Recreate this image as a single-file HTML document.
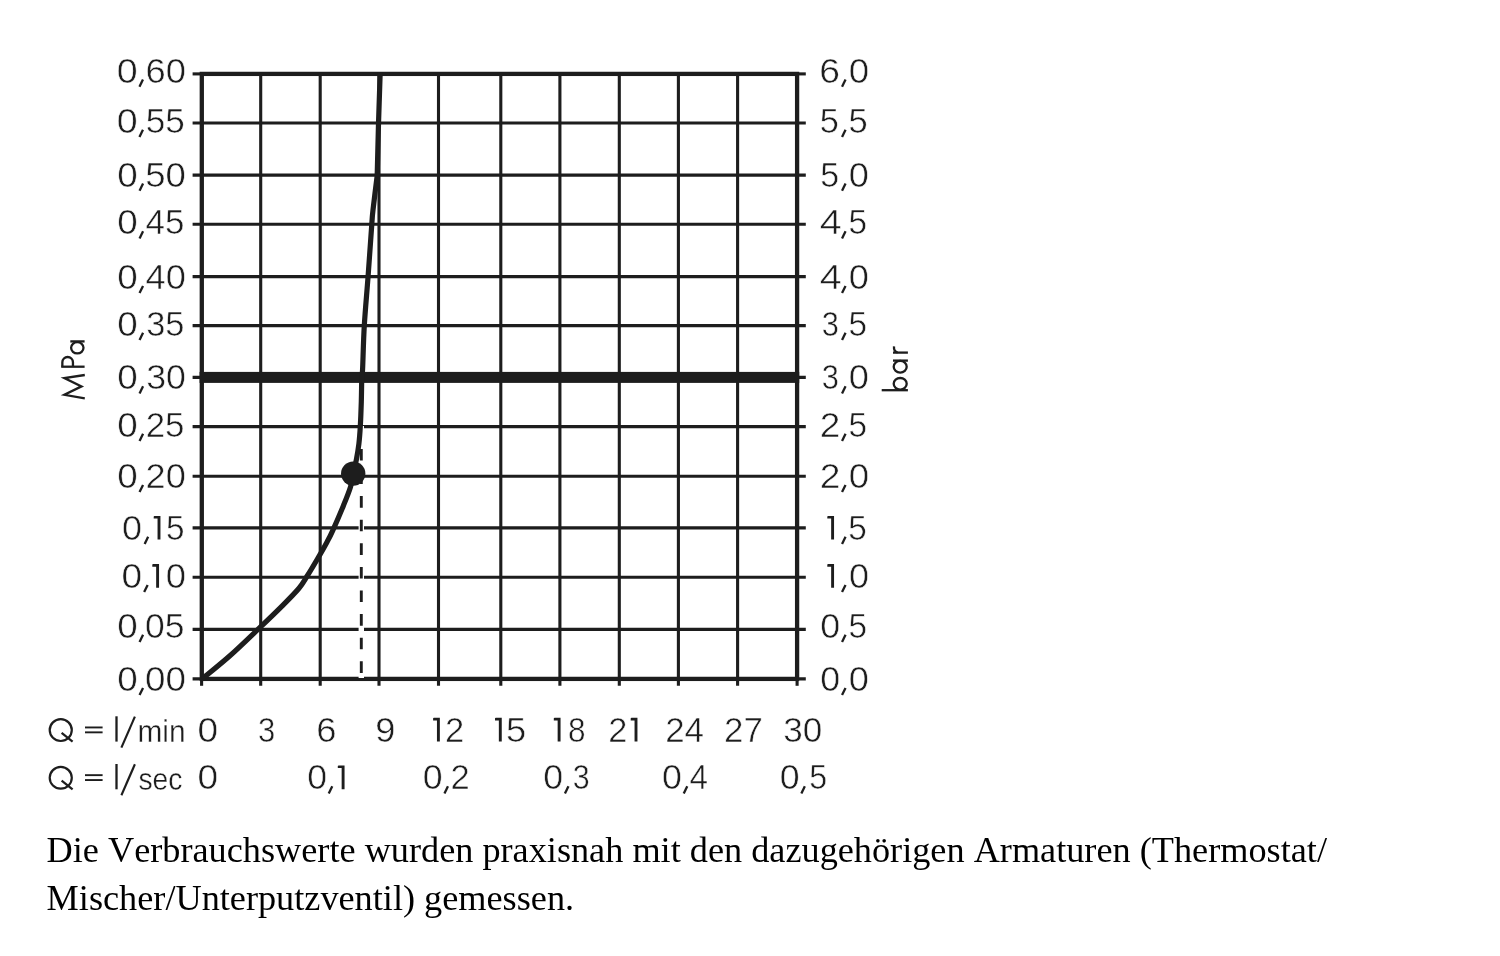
<!DOCTYPE html>
<html><head><meta charset="utf-8"><title>Durchflussdiagramm</title>
<style>html,body{margin:0;padding:0;background:#fff}svg{display:block;filter:grayscale(1);will-change:transform}text{font-family:"Liberation Sans",sans-serif;fill:#1d1d1b}.t{stroke:#fff;stroke-width:0.5px}.t2{stroke:#fff;stroke-width:0.35px}.s{font-family:"Liberation Serif",serif;fill:#000;font-kerning:none}</style></head><body>
<svg width="1500" height="956" viewBox="0 0 1500 956">
<rect width="1500" height="956" fill="#fff"/>
<g stroke="#1d1d1b" stroke-width="3.1" fill="none">
<line x1="192.6" y1="123.0" x2="805.8" y2="123.0"/>
<line x1="192.6" y1="175.1" x2="805.8" y2="175.1"/>
<line x1="192.6" y1="224.3" x2="805.8" y2="224.3"/>
<line x1="192.6" y1="276.6" x2="805.8" y2="276.6"/>
<line x1="192.6" y1="325.6" x2="805.8" y2="325.6"/>
<line x1="192.6" y1="426.6" x2="805.8" y2="426.6"/>
<line x1="192.6" y1="476.3" x2="805.8" y2="476.3"/>
<line x1="192.6" y1="527.9" x2="805.8" y2="527.9"/>
<line x1="192.6" y1="577.3" x2="805.8" y2="577.3"/>
<line x1="192.6" y1="629.4" x2="805.8" y2="629.4"/>
<line x1="260.7" y1="73.9" x2="260.7" y2="685.8"/>
<line x1="320.2" y1="73.9" x2="320.2" y2="685.8"/>
<line x1="379.0" y1="73.9" x2="379.0" y2="685.8"/>
<line x1="438.5" y1="73.9" x2="438.5" y2="685.8"/>
<line x1="500.8" y1="73.9" x2="500.8" y2="685.8"/>
<line x1="559.9" y1="73.9" x2="559.9" y2="685.8"/>
<line x1="619.3" y1="73.9" x2="619.3" y2="685.8"/>
<line x1="678.4" y1="73.9" x2="678.4" y2="685.8"/>
<line x1="737.6" y1="73.9" x2="737.6" y2="685.8"/>
<line x1="192.6" y1="73.9" x2="202" y2="73.9"/>
<line x1="192.6" y1="678.9" x2="805.8" y2="678.9"/>
<line x1="192.6" y1="377.4" x2="805.8" y2="377.4"/>
<line x1="797" y1="73.9" x2="805.8" y2="73.9"/>
<line x1="201.6" y1="678" x2="201.6" y2="685.8"/>
<line x1="797.1" y1="678" x2="797.1" y2="685.8"/>
</g>
<rect x="201.8" y="73.9" width="595.3" height="605" fill="none" stroke="#1d1d1b" stroke-width="4.3"/>
<rect x="199.6" y="371.9" width="599.6" height="11" fill="#1d1d1b"/>
<rect x="358.6" y="426" width="5.4" height="252" fill="#fff"/>
<line x1="361.3" y1="448.9" x2="361.3" y2="676" stroke="#1d1d1b" stroke-width="2.9" stroke-dasharray="11.6 12"/>
<path d="M202.0,679.0 C206.70,675.08 220.62,664.02 230.2,655.5 C239.78,646.98 250.87,636.13 259.5,627.9 C268.13,619.67 275.45,612.67 282,606.1 C288.55,599.53 294.60,593.52 298.8,588.5 C303.00,583.48 304.00,581.08 307.2,576 C310.40,570.92 314.67,563.72 318.0,558 C321.33,552.28 324.75,546.27 327.2,541.7 C329.65,537.13 330.00,536.60 332.7,530.6 C335.40,524.60 340.43,512.97 343.4,505.7 C346.37,498.43 348.87,492.35 350.5,487 C352.13,481.65 352.22,478.20 353.2,473.6 C354.18,469.00 355.45,464.38 356.4,459.4 C357.35,454.42 358.25,449.20 358.9,443.7 C359.55,438.20 359.90,433.38 360.3,426.4 C360.70,419.42 361.05,409.98 361.3,401.8 C361.55,393.62 361.58,382.77 361.8,377.3 C362.02,371.83 362.18,377.63 362.6,369 C363.02,360.37 363.38,340.98 364.3,325.5 C365.22,310.02 366.85,292.98 368.1,276.1 C369.35,259.22 370.98,235.22 371.8,224.2 C372.62,213.18 372.10,218.12 373,210 C373.90,201.88 376.50,181.25 377.2,175.5 L378.5,123.6 L380.2,72" fill="none" stroke="#1d1d1b" stroke-width="5.2" stroke-linejoin="round"/>
<circle cx="353.2" cy="473.6" r="12.2" fill="#1d1d1b"/>
<text class="t" transform="translate(116.78,82.62) scale(1.1163,1.05)" font-size="33.7">0</text>
<text class="t" transform="translate(145.50,82.62) scale(1.0765,1.05)" font-size="33.7">60</text>
<text class="t" transform="translate(116.78,132.82) scale(1.1163,1.05)" font-size="33.7">0</text>
<text class="t" transform="translate(145.82,132.82) scale(1.0417,1.05)" font-size="33.7">55</text>
<text class="t" transform="translate(117.32,186.72) scale(1.0917,1.05)" font-size="33.7">0</text>
<text class="t" transform="translate(145.26,186.72) scale(1.0832,1.05)" font-size="33.7">50</text>
<text class="t" transform="translate(117.32,234.32) scale(1.0917,1.05)" font-size="33.7">0</text>
<text class="t" transform="translate(145.60,234.32) scale(1.0366,1.05)" font-size="33.7">45</text>
<text class="t" transform="translate(117.32,289.02) scale(1.0917,1.05)" font-size="33.7">0</text>
<text class="t" transform="translate(145.57,289.02) scale(1.0744,1.05)" font-size="33.7">40</text>
<text class="t" transform="translate(117.32,335.92) scale(1.0917,1.05)" font-size="33.7">0</text>
<text class="t" transform="translate(146.21,335.92) scale(1.0199,1.05)" font-size="33.7">35</text>
<text class="t" transform="translate(117.32,389.32) scale(1.0917,1.05)" font-size="33.7">0</text>
<text class="t" transform="translate(146.16,389.32) scale(1.0583,1.05)" font-size="33.7">30</text>
<text class="t" transform="translate(117.32,436.92) scale(1.0917,1.05)" font-size="33.7">0</text>
<text class="t" transform="translate(145.67,436.92) scale(1.0347,1.05)" font-size="33.7">25</text>
<text class="t" transform="translate(117.32,488.02) scale(1.0917,1.05)" font-size="33.7">0</text>
<text class="t" transform="translate(145.60,488.02) scale(1.0736,1.05)" font-size="33.7">20</text>
<text class="t" transform="translate(117.32,637.82) scale(1.0917,1.05)" font-size="33.7">0</text>
<text class="t" transform="translate(145.07,637.82) scale(1.0515,1.05)" font-size="33.7">05</text>
<text class="t" transform="translate(117.32,691.02) scale(1.0917,1.05)" font-size="33.7">0</text>
<text class="t" transform="translate(145.02,691.02) scale(1.0897,1.05)" font-size="33.7">00</text>
<text class="t" transform="translate(121.95,539.82) scale(1.0671,1.05)" font-size="33.7">0</text>
<text class="t" transform="translate(166.00,539.82) scale(0.9867,1.05)" font-size="33.7">5</text>
<text class="t" transform="translate(121.41,588.02) scale(1.0978,1.05)" font-size="33.7">0</text>
<text class="t" transform="translate(165.63,588.02) scale(1.0794,1.05)" font-size="33.7">0</text>
<text class="t" transform="translate(819.34,82.62) scale(1.1058,1.05)" font-size="33.7">6</text>
<text class="t" transform="translate(848.72,82.62) scale(1.0855,1.05)" font-size="33.7">0</text>
<text class="t" transform="translate(819.75,132.82) scale(1.0184,1.05)" font-size="33.7">5</text>
<text class="t" transform="translate(848.44,132.82) scale(1.0248,1.05)" font-size="33.7">5</text>
<text class="t" transform="translate(820.17,186.72) scale(1.0057,1.05)" font-size="33.7">5</text>
<text class="t" transform="translate(848.74,186.72) scale(1.0732,1.05)" font-size="33.7">0</text>
<text class="t" transform="translate(819.70,234.32) scale(1.1729,1.05)" font-size="33.7">4</text>
<text class="t" transform="translate(848.50,234.32) scale(0.9867,1.05)" font-size="33.7">5</text>
<text class="t" transform="translate(819.70,289.02) scale(1.1729,1.05)" font-size="33.7">4</text>
<text class="t" transform="translate(848.74,289.02) scale(1.0732,1.05)" font-size="33.7">0</text>
<text class="t" transform="translate(821.64,335.92) scale(0.9150,1.05)" font-size="33.7">3</text>
<text class="t" transform="translate(848.50,335.92) scale(0.9867,1.05)" font-size="33.7">5</text>
<text class="t" transform="translate(821.64,389.32) scale(0.9150,1.05)" font-size="33.7">3</text>
<text class="t" transform="translate(848.74,389.32) scale(1.0732,1.05)" font-size="33.7">0</text>
<text class="t" transform="translate(819.86,436.92) scale(1.0977,1.05)" font-size="33.7">2</text>
<text class="t" transform="translate(848.50,436.92) scale(0.9867,1.05)" font-size="33.7">5</text>
<text class="t" transform="translate(819.85,488.02) scale(1.1043,1.05)" font-size="33.7">2</text>
<text class="t" transform="translate(848.72,488.02) scale(1.0855,1.05)" font-size="33.7">0</text>
<text class="t" transform="translate(820.35,637.82) scale(1.0609,1.05)" font-size="33.7">0</text>
<text class="t" transform="translate(848.50,637.82) scale(0.9867,1.05)" font-size="33.7">5</text>
<text class="t" transform="translate(820.35,691.02) scale(1.0609,1.05)" font-size="33.7">0</text>
<text class="t" transform="translate(848.74,691.02) scale(1.0732,1.05)" font-size="33.7">0</text>
<text class="t" transform="translate(848.30,539.82) scale(0.9867,1.05)" font-size="33.7">5</text>
<text class="t" transform="translate(848.95,588.02) scale(1.0671,1.05)" font-size="33.7">0</text>
<text class="t" transform="translate(197.41,741.72) scale(1.0978,1.05)" font-size="33.7">0</text>
<text class="t" transform="translate(257.93,741.72) scale(0.9213,1.05)" font-size="33.7">3</text>
<text class="t" transform="translate(316.19,741.72) scale(1.0800,1.05)" font-size="33.7">6</text>
<text class="t" transform="translate(375.17,741.72) scale(1.0756,1.05)" font-size="33.7">9</text>
<text class="t" transform="translate(665.17,741.72) scale(1.0371,1.05)" font-size="33.7">24</text>
<text class="t" transform="translate(723.97,741.72) scale(1.0365,1.05)" font-size="33.7">27</text>
<text class="t" transform="translate(783.28,741.72) scale(1.0411,1.05)" font-size="33.7">30</text>
<text class="t" transform="translate(444.99,741.72) scale(1.0256,1.05)" font-size="33.7">2</text>
<text class="t" transform="translate(505.97,741.72) scale(1.0756,1.05)" font-size="33.7">5</text>
<text class="t" transform="translate(567.98,741.72) scale(0.9359,1.05)" font-size="33.7">8</text>
<text class="t" transform="translate(608.20,741.72) scale(1.0190,1.05)" font-size="33.7">2</text>
<text class="t" transform="translate(197.41,789.42) scale(1.0978,1.05)" font-size="33.7">0</text>
<text class="t" transform="translate(307.16,789.42) scale(1.0548,1.05)" font-size="33.7">0</text>
<text class="t" transform="translate(422.75,789.42) scale(1.0609,1.05)" font-size="33.7">0</text>
<text class="t" transform="translate(450.49,789.42) scale(1.0256,1.05)" font-size="33.7">2</text>
<text class="t" transform="translate(543.25,789.42) scale(1.0609,1.05)" font-size="33.7">0</text>
<text class="t" transform="translate(572.65,789.42) scale(0.9025,1.05)" font-size="33.7">3</text>
<text class="t" transform="translate(662.05,789.42) scale(1.0609,1.05)" font-size="33.7">0</text>
<text class="t" transform="translate(689.54,789.42) scale(0.9847,1.05)" font-size="33.7">4</text>
<text class="t" transform="translate(779.65,789.42) scale(1.0609,1.05)" font-size="33.7">0</text>
<text class="t" transform="translate(809.35,789.42) scale(0.9549,1.05)" font-size="33.7">5</text>
<text class="t2" transform="translate(137.41,741.82) scale(0.9831,1.05)" font-size="30.4">min</text>
<text class="t2" transform="translate(138.45,789.62) scale(0.9305,1.05)" font-size="30.4">sec</text>
<g fill="#1d1d1b"><path d="M153.70,516.40 L154.40,515.90 H160.45 V539.60 H157.55 V518.50 H153.70 Z"/><path d="M152.30,564.60 L153.00,564.10 H159.05 V587.80 H156.15 V566.70 H152.30 Z"/><path d="M827.30,516.40 L828.00,515.90 H834.05 V539.60 H831.15 V518.50 H827.30 Z"/><path d="M827.30,564.60 L828.00,564.10 H834.05 V587.80 H831.15 V566.70 H827.30 Z"/><path d="M433.10,718.30 L433.80,717.80 H439.85 V741.50 H436.95 V720.40 H433.10 Z"/><path d="M495.00,718.30 L495.70,717.80 H501.75 V741.50 H498.85 V720.40 H495.00 Z"/><path d="M553.80,718.30 L554.50,717.80 H560.55 V741.50 H557.65 V720.40 H553.80 Z"/><path d="M630.70,718.30 L631.40,717.80 H637.45 V741.50 H634.55 V720.40 H630.70 Z"/><path d="M337.80,766.00 L338.50,765.50 H344.55 V789.20 H341.65 V768.10 H337.80 Z"/></g><g stroke="#1d1d1b" stroke-width="2.3" fill="none"><line x1="139.45" y1="86.70" x2="142.95" y2="79.50"/><line x1="139.45" y1="136.90" x2="142.95" y2="129.70"/><line x1="139.55" y1="190.80" x2="143.05" y2="183.60"/><line x1="139.55" y1="238.40" x2="143.05" y2="231.20"/><line x1="139.55" y1="293.10" x2="143.05" y2="285.90"/><line x1="139.55" y1="340.00" x2="143.05" y2="332.80"/><line x1="139.55" y1="393.40" x2="143.05" y2="386.20"/><line x1="139.55" y1="441.00" x2="143.05" y2="433.80"/><line x1="139.55" y1="492.10" x2="143.05" y2="484.90"/><line x1="139.55" y1="641.90" x2="143.05" y2="634.70"/><line x1="139.55" y1="695.10" x2="143.05" y2="687.90"/><line x1="144.65" y1="543.90" x2="148.15" y2="536.70"/><line x1="144.15" y1="592.10" x2="147.65" y2="584.90"/><line x1="842.05" y1="86.70" x2="845.55" y2="79.50"/><line x1="842.05" y1="136.90" x2="845.55" y2="129.70"/><line x1="842.05" y1="190.80" x2="845.55" y2="183.60"/><line x1="842.05" y1="238.40" x2="845.55" y2="231.20"/><line x1="842.05" y1="293.10" x2="845.55" y2="285.90"/><line x1="842.05" y1="340.00" x2="845.55" y2="332.80"/><line x1="842.05" y1="393.40" x2="845.55" y2="386.20"/><line x1="842.05" y1="441.00" x2="845.55" y2="433.80"/><line x1="842.05" y1="492.10" x2="845.55" y2="484.90"/><line x1="842.05" y1="641.90" x2="845.55" y2="634.70"/><line x1="842.05" y1="695.10" x2="845.55" y2="687.90"/><line x1="842.05" y1="543.90" x2="845.55" y2="536.70"/><line x1="842.05" y1="592.10" x2="845.55" y2="584.90"/><line x1="328.75" y1="793.50" x2="332.25" y2="786.30"/><line x1="444.45" y1="793.50" x2="447.95" y2="786.30"/><line x1="564.95" y1="793.50" x2="568.45" y2="786.30"/><line x1="683.75" y1="793.50" x2="687.25" y2="786.30"/><line x1="801.35" y1="793.50" x2="804.85" y2="786.30"/></g>
<g stroke="#1d1d1b" fill="none"><line x1="85" y1="727.45" x2="102.6" y2="727.45" stroke-width="1.9"/><line x1="85" y1="732.35" x2="102.6" y2="732.35" stroke-width="1.9"/><line x1="116.5" y1="716.30" x2="116.5" y2="741.60" stroke-width="2.3"/><line x1="121.4" y1="747.60" x2="134.9" y2="716.60" stroke-width="2.15"/><ellipse cx="60.75" cy="730.10" rx="11.05" ry="10.9" stroke-width="2.2"/><line x1="61.6" y1="732.90" x2="72.6" y2="741.70" stroke-width="2.2"/></g>
<g stroke="#1d1d1b" fill="none"><line x1="85" y1="775.15" x2="102.6" y2="775.15" stroke-width="1.9"/><line x1="85" y1="780.05" x2="102.6" y2="780.05" stroke-width="1.9"/><line x1="116.5" y1="764.00" x2="116.5" y2="789.30" stroke-width="2.3"/><line x1="121.4" y1="795.30" x2="134.9" y2="764.30" stroke-width="2.15"/><ellipse cx="60.75" cy="777.80" rx="11.05" ry="10.9" stroke-width="2.2"/><line x1="61.6" y1="780.60" x2="72.6" y2="789.40" stroke-width="2.2"/></g>
<g stroke="#1d1d1b" stroke-width="2.3" fill="none" stroke-miterlimit="10"><line x1="881.7" y1="390.2" x2="907.9" y2="390.2"/><ellipse cx="900.2" cy="383.8" rx="6.5" ry="5.8"/><ellipse cx="900.2" cy="366.8" rx="6.5" ry="5.9"/><line x1="893" y1="360.6" x2="907.9" y2="360.6"/><line x1="893" y1="352.6" x2="907.9" y2="352.6"/><path d="M897.6,352.4 C894.9,351.9 893.7,349.8 894,346.4"/><polyline points="84.8,398.3 64.4,394.8 81.5,386.4 64.4,378.0 84.8,375.0"/><line x1="61.2" y1="366.7" x2="84.6" y2="366.7"/><path d="M62.35,366.7 L62.35,362.3 A5.3,5.3 0 0 1 72.95,362.3 L72.95,366.7"/><ellipse cx="77.3" cy="347.8" rx="6.2" ry="5.65"/><line x1="70.3" y1="341.4" x2="84.6" y2="341.4"/></g>
<text class="s" x="46.6" y="862" font-size="36.25">Die Verbrauchswerte wurden praxisnah mit den dazugehörigen Armaturen (Thermostat/</text>
<text class="s" x="46.6" y="909.8" font-size="36.25">Mischer/Unterputzventil) gemessen.</text>
</svg></body></html>
